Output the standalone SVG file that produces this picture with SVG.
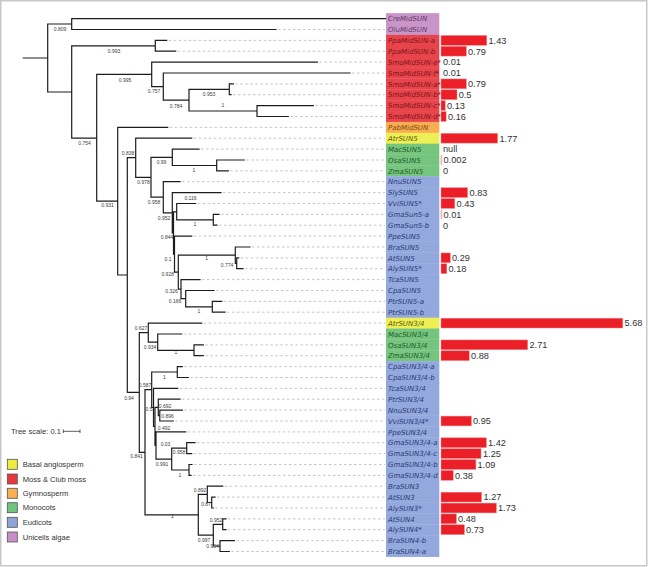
<svg xmlns="http://www.w3.org/2000/svg" width="649" height="567" viewBox="0 0 649 567">
<style>
.ln{fill:none;stroke:#1c1c1c;stroke-width:1.2;stroke-linecap:square}
.dl{fill:none;stroke:#b8b8b8;stroke-width:0.8;stroke-dasharray:2.5 2.5}
.bs{font-family:"Liberation Sans",Arial,sans-serif;font-size:5px;fill:#3a3a3a;text-anchor:middle}
.lb{font-family:"DejaVu Sans",Verdana,sans-serif;font-size:7px;font-style:italic}
.vl{font-family:"Liberation Sans",Arial,sans-serif;font-size:9.2px;fill:#333}
.bar{fill:#ea1f27;stroke:#f3878a;stroke-width:0.5}
.pk{fill:#f3b3b5}
.pu{fill:#c994c8}.pt{fill:#5d3a66}
.rd{fill:#e8444b}.rt{fill:#7d1518}
.or{fill:#f8ad52}.ot{fill:#7a4a10}
.ye{fill:#eeee55}.yt{fill:#5a5a10}
.gr{fill:#76c57f}.gt{fill:#1e5a28}
.bl{fill:#93a8dc}.bt{fill:#2a3a78}
.lg{font-family:"Liberation Sans",Arial,sans-serif;font-size:7.6px;fill:#333}
.sq{stroke:#555;stroke-width:0.8}
</style>
<rect x="0.75" y="0.75" width="646" height="565" fill="#fff" stroke="#c8c8c8" stroke-width="1.5"/>

<g id="connectors">
<path class="dl" d="M278 29.5H385M168.7 40.4H385M177.7 51.2H385M319.3 62.1H385M352 73H385M235.3 83.9H385M233 94.7H385M315.3 105.6H385M290.3 116.5H385M169.7 127.4H385M193.7 138.2H385M201 149.1H385M246.3 160H385M230.3 170.9H385M182 181.7H385M223 192.6H385M197.7 203.5H385M221 214.4H385M219 225.2H385M193.7 236.1H385M252 247H385M240.7 257.9H385M245 268.7H385M202 279.6H385M216 290.5H385M223.7 301.4H385M227 312.2H385M203.7 323.1H385M183.7 334H385M205.3 344.9H385M205.3 355.7H385M184.3 366.6H385M190.3 377.5H385M179.7 388.4H385M182 399.2H385M184.3 410.1H385M175.3 421H385M187.7 431.9H385M197 442.7H385M193.7 453.6H385M194 464.5H385M193 475.4H385M224.7 486.2H385M217 497.1H385M215.3 508H385M228 518.9H385M228 529.7H385M236.3 540.6H385M231.3 551.5H385"/>
<path class="ln" d="M23.3 58H47.7M47.7 24V92M47.7 24H71.7M71.7 18.6V29.5M71.7 18.6H385.5M71.7 29.5H276M47.7 92H71.7M71.7 45.8V138.1M71.7 45.8H155.3M155.3 40.4V51.2M155.3 40.4H166.7M155.3 51.2H175.7M71.7 138.1H96.7M96.7 74.4V201.2M96.7 74.4H151.7M151.7 62.1V86.6M151.7 62.1H317.3M151.7 86.6H163.3M163.3 73V100.2M163.3 73H350M163.3 100.2H189M189 89.3V111M189 89.3H229.3M229.3 83.9V94.7M229.3 83.9H233.3M229.3 94.7H231M189 111H257M257 105.6V116.5M257 105.6H313.3M257 116.5H288.3M96.7 201.2H117.7M117.7 127.4V275M117.7 127.4H167.7M117.7 275H127.3M127.3 157.7V392.4M127.3 157.7H135.7M135.7 138.2V177.3M135.7 138.2H191.7M135.7 177.3H151M151 157.3V197.2M151 157.3H172.3M172.3 149.1V165.5M172.3 149.1H199M172.3 165.5H216.7M216.7 160V170.9M216.7 160H244.3M216.7 170.9H228.3M151 197.2H163.3M163.3 181.7V212.8M163.3 181.7H180M163.3 212.8H172.3M172.3 192.6V232.9M172.3 192.6H221M172.3 232.9H173.5M173.5 211.8V254.1M173.5 211.8H176.7M176.7 203.5V219.8M176.7 203.5H195.7M176.7 219.8H213.3M213.3 214.4V225.2M213.3 214.4H219M213.3 225.2H217M173.5 254.1H174.5M174.5 236.1V272.1M174.5 236.1H191.7M174.5 272.1H178.3M178.3 255.1V289.1M178.3 255.1H235.3M235.3 247V263.3M235.3 247H250M235.3 263.3H236.7M236.7 257.9V268.7M236.7 257.9H238.7M236.7 268.7H243M178.3 289.1H181M181 279.6V298.7M181 279.6H200M181 298.7H185.7M185.7 290.5V306.8M185.7 290.5H214M185.7 306.8H212.3M212.3 301.4V312.2M212.3 301.4H221.7M212.3 312.2H225M127.3 392.4H139.3M139.3 332.6V452.3M139.3 332.6H148.3M148.3 323.1V342.2M148.3 323.1H201.7M148.3 342.2H157.7M157.7 334V350.3M157.7 334H181.7M157.7 350.3H194M194 344.9V355.7M194 344.9H203.3M194 355.7H203.3M139.3 452.3H145M145 389.7V514.8M145 389.7H151.7M151.7 372V407.5M151.7 372H177.3M177.3 366.6V377.5M177.3 366.6H182.3M177.3 377.5H188.3M151.7 407.5H153.5M153.5 388.4V426.5M153.5 388.4H177.7M153.5 426.5H155M155 407.4V445.5M155 407.4H158.3M158.3 399.2V415.6M158.3 399.2H180M158.3 415.6H159.8M159.8 410.1V421M159.8 410.1H182.3M159.8 421H173.3M155 445.5H156M156 431.9V459.1M156 431.9H185.7M156 459.1H171.7M171.7 448.2V470M171.7 448.2H186.7M186.7 442.7V453.6M186.7 442.7H195M186.7 453.6H191.7M171.7 470H189M189 464.5V475.4M189 464.5H192M189 475.4H191M145 514.8H198.3M198.3 494.4V535.2M198.3 494.4H207.3M207.3 486.2V502.5M207.3 486.2H222.7M207.3 502.5H211.7M211.7 497.1V508M211.7 497.1H215M211.7 508H213.3M198.3 535.2H213.3M213.3 524.3V546M213.3 524.3H222.7M222.7 518.9V529.7M222.7 518.9H226M222.7 529.7H226M213.3 546H220M220 540.6V551.5M220 540.6H234.3M220 551.5H229.3"/>
<g id="support-values">
<text class="bs" x="60" y="30.7">0.809</text>
<text class="bs" x="114" y="52.7">0.993</text>
<text class="bs" x="125" y="81.7">0.995</text>
<text class="bs" x="154" y="93.4">0.757</text>
<text class="bs" x="176" y="107.7">0.784</text>
<text class="bs" x="209" y="95.7">0.953</text>
<text class="bs" x="223" y="106.7">1</text>
<text class="bs" x="84.5" y="144.7">0.754</text>
<text class="bs" x="107.5" y="207.2">0.931</text>
<text class="bs" x="128" y="155.2">0.838</text>
<text class="bs" x="143.5" y="184">0.978</text>
<text class="bs" x="161.5" y="164.4">0.99</text>
<text class="bs" x="194" y="171.7">1</text>
<text class="bs" x="154" y="204">0.958</text>
<text class="bs" x="190.5" y="200.2">0.116</text>
<text class="bs" x="164" y="219.7">0.952</text>
<text class="bs" x="195" y="226">1</text>
<text class="bs" x="167" y="239.4">0.844</text>
<text class="bs" x="168" y="260.7">0.1</text>
<text class="bs" x="206.7" y="259.7">1</text>
<text class="bs" x="227" y="266.7">0.774</text>
<text class="bs" x="167.7" y="276">0.928</text>
<text class="bs" x="171.5" y="293">0.326</text>
<text class="bs" x="175" y="302.7">0.166</text>
<text class="bs" x="199" y="313">1</text>
<text class="bs" x="141" y="329.7">0.627</text>
<text class="bs" x="150" y="348.7">0.934</text>
<text class="bs" x="176" y="354.4">1</text>
<text class="bs" x="129" y="399.7">0.94</text>
<text class="bs" x="145" y="387">0.587</text>
<text class="bs" x="164.3" y="379.4">1</text>
<text class="bs" x="149" y="410.7">0.5</text>
<text class="bs" x="165" y="407.7">0.692</text>
<text class="bs" x="167.5" y="418.4">0.896</text>
<text class="bs" x="164" y="430">0.492</text>
<text class="bs" x="165.5" y="445.7">0.03</text>
<text class="bs" x="179" y="454.4">0.958</text>
<text class="bs" x="162" y="465.7">0.991</text>
<text class="bs" x="180" y="476.7">1</text>
<text class="bs" x="136.5" y="458.4">0.841</text>
<text class="bs" x="172.3" y="518.4">1</text>
<text class="bs" x="200" y="491.7">0.892</text>
<text class="bs" x="206" y="506">0.87</text>
<text class="bs" x="204" y="541.7">0.997</text>
<text class="bs" x="216" y="521.7">0.952</text>
<text class="bs" x="212.5" y="548.4">0.904</text>
</g>
</g>

<g id="n01"><rect class="pu" x="386" y="13.16" width="53.3" height="11.2"/><text class="lb pt" x="388" y="21.2">CreMidSUN</text></g>
<g id="n02"><rect class="pu" x="386" y="24.04" width="53.3" height="11.2"/><text class="lb pt" x="388" y="32.1">OluMidSUN</text></g>
<g id="n03"><rect class="rd" x="386" y="34.91" width="53.3" height="11.2"/><text class="lb rt" x="388" y="43">PpaMidSUN-a</text><rect class="bar" x="441" y="35.45" width="45.8" height="9.8"/><text class="vl" x="488.5" y="43.65">1.43</text></g>
<g id="n04"><rect class="rd" x="386" y="45.79" width="53.3" height="11.2"/><text class="lb rt" x="388" y="53.8">PpaMidSUN-b</text><rect class="bar" x="441" y="46.3" width="25.3" height="9.8"/><text class="vl" x="468" y="54.5">0.79</text></g>
<g id="n05"><rect class="rd" x="386" y="56.66" width="53.3" height="11.2"/><text class="lb rt" x="388" y="64.7">SmoMidSUN-e*</text><text class="vl" x="443" y="65.4">0.01</text></g>
<g id="n06"><rect class="rd" x="386" y="67.54" width="53.3" height="11.2"/><text class="lb rt" x="388" y="75.6">SmoMidSUN-f*</text><text class="vl" x="443" y="76.3">0.01</text></g>
<g id="n07"><rect class="rd" x="386" y="78.41" width="53.3" height="11.2"/><text class="lb rt" x="388" y="86.5">SmoMidSUN-a*</text><rect class="bar" x="441" y="78.95" width="25.3" height="9.8"/><text class="vl" x="468" y="87.15">0.79</text></g>
<g id="n08"><rect class="rd" x="386" y="89.29" width="53.3" height="11.2"/><text class="lb rt" x="388" y="97.3">SmoMidSUN-b*</text><rect class="bar" x="441" y="89.8" width="16" height="9.8"/><text class="vl" x="458.7" y="98">0.5</text></g>
<g id="n09"><rect class="rd" x="386" y="100.16" width="53.3" height="11.2"/><text class="lb rt" x="388" y="108.2">SmoMidSUN-c*</text><rect class="bar" x="441" y="100.7" width="4.2" height="9.8"/><text class="vl" x="447" y="108.9">0.13</text></g>
<g id="n10"><rect class="rd" x="386" y="111.04" width="53.3" height="11.2"/><text class="lb rt" x="388" y="119.1">SmoMidSUN-d*</text><rect class="bar" x="441" y="111.6" width="5.1" height="9.8"/><text class="vl" x="448" y="119.8">0.16</text></g>
<g id="n11"><rect class="or" x="386" y="121.91" width="53.3" height="11.2"/><text class="lb ot" x="388" y="130">PabMidSUN</text></g>
<g id="n12"><rect class="ye" x="386" y="132.79" width="53.3" height="11.2"/><text class="lb yt" x="388" y="140.8">AtrSUN5</text><rect class="bar" x="441" y="133.3" width="56.6" height="9.8"/><text class="vl" x="499.5" y="141.5">1.77</text></g>
<g id="n13"><rect class="gr" x="386" y="143.66" width="53.3" height="11.2"/><text class="lb gt" x="388" y="151.7">MacSUN5</text><text class="vl" x="443" y="152.4">null</text></g>
<g id="n14"><rect class="gr" x="386" y="154.54" width="53.3" height="11.2"/><text class="lb gt" x="388" y="162.6">OsaSUN5</text><rect class="pk" x="440.6" y="155.1" width="1.6" height="9.8"/><text class="vl" x="443.5" y="163.3">0.002</text></g>
<g id="n15"><rect class="gr" x="386" y="165.41" width="53.3" height="11.2"/><text class="lb gt" x="388" y="173.5">ZmaSUN5</text><text class="vl" x="443" y="174.2">0</text></g>
<g id="n16"><rect class="bl" x="386" y="176.29" width="53.3" height="11.2"/><text class="lb bt" x="388" y="184.3">NnuSUN5</text></g>
<g id="n17"><rect class="bl" x="386" y="187.16" width="53.3" height="11.2"/><text class="lb bt" x="388" y="195.2">SlySUN5</text><rect class="bar" x="441" y="187.7" width="26.6" height="9.8"/><text class="vl" x="469.5" y="195.9">0.83</text></g>
<g id="n18"><rect class="bl" x="386" y="198.04" width="53.3" height="11.2"/><text class="lb bt" x="388" y="206.1">VviSUN5*</text><rect class="bar" x="441" y="198.6" width="13.8" height="9.8"/><text class="vl" x="456.5" y="206.8">0.43</text></g>
<g id="n19"><rect class="bl" x="386" y="208.91" width="53.3" height="11.2"/><text class="lb bt" x="388" y="217">GmaSun5-a</text><rect class="pk" x="440.6" y="209.45" width="1.6" height="9.8"/><text class="vl" x="443.5" y="217.65">0.01</text></g>
<g id="n20"><rect class="bl" x="386" y="219.79" width="53.3" height="11.2"/><text class="lb bt" x="388" y="227.8">GmaSun5-b</text><text class="vl" x="443" y="228.5">0</text></g>
<g id="n21"><rect class="bl" x="386" y="230.66" width="53.3" height="11.2"/><text class="lb bt" x="388" y="238.7">PpeSUN5</text></g>
<g id="n22"><rect class="bl" x="386" y="241.54" width="53.3" height="11.2"/><text class="lb bt" x="388" y="249.6">BraSUN5</text></g>
<g id="n23"><rect class="bl" x="386" y="252.41" width="53.3" height="11.2"/><text class="lb bt" x="388" y="260.5">AtSUN5</text><rect class="bar" x="441" y="252.95" width="9.3" height="9.8"/><text class="vl" x="452" y="261.15">0.29</text></g>
<g id="n24"><rect class="bl" x="386" y="263.29" width="53.3" height="11.2"/><text class="lb bt" x="388" y="271.3">AlySUN5*</text><rect class="bar" x="441" y="263.8" width="5.8" height="9.8"/><text class="vl" x="448.5" y="272">0.18</text></g>
<g id="n25"><rect class="bl" x="386" y="274.16" width="53.3" height="11.2"/><text class="lb bt" x="388" y="282.2">TcaSUN5</text></g>
<g id="n26"><rect class="bl" x="386" y="285.04" width="53.3" height="11.2"/><text class="lb bt" x="388" y="293.1">CpaSUN5</text></g>
<g id="n27"><rect class="bl" x="386" y="295.91" width="53.3" height="11.2"/><text class="lb bt" x="388" y="304">PtrSUN5-a</text></g>
<g id="n28"><rect class="bl" x="386" y="306.79" width="53.3" height="11.2"/><text class="lb bt" x="388" y="314.8">PtrSUN5-b</text></g>
<g id="n29"><rect class="ye" x="386" y="317.66" width="53.3" height="11.2"/><text class="lb yt" x="388" y="325.7">AtrSUN3/4</text><rect class="bar" x="441" y="318.2" width="181.8" height="9.8"/><text class="vl" x="624.5" y="326.4">5.68</text></g>
<g id="n30"><rect class="gr" x="386" y="328.54" width="53.3" height="11.2"/><text class="lb gt" x="388" y="336.6">MacSUN3/4</text></g>
<g id="n31"><rect class="gr" x="386" y="339.41" width="53.3" height="11.2"/><text class="lb gt" x="388" y="347.5">OsaSUN3/4</text><rect class="bar" x="441" y="339.95" width="86.7" height="9.8"/><text class="vl" x="529.5" y="348.15">2.71</text></g>
<g id="n32"><rect class="gr" x="386" y="350.29" width="53.3" height="11.2"/><text class="lb gt" x="388" y="358.3">ZmaSUN3/4</text><rect class="bar" x="441" y="350.8" width="28.2" height="9.8"/><text class="vl" x="471" y="359">0.88</text></g>
<g id="n33"><rect class="bl" x="386" y="361.16" width="53.3" height="11.2"/><text class="lb bt" x="388" y="369.2">CpaSUN3/4-a</text></g>
<g id="n34"><rect class="bl" x="386" y="372.04" width="53.3" height="11.2"/><text class="lb bt" x="388" y="380.1">CpaSUN3/4-b</text></g>
<g id="n35"><rect class="bl" x="386" y="382.91" width="53.3" height="11.2"/><text class="lb bt" x="388" y="391">TcaSUN3/4</text></g>
<g id="n36"><rect class="bl" x="386" y="393.79" width="53.3" height="11.2"/><text class="lb bt" x="388" y="401.8">PtrSUN3/4</text></g>
<g id="n37"><rect class="bl" x="386" y="404.66" width="53.3" height="11.2"/><text class="lb bt" x="388" y="412.7">NnuSUN3/4</text></g>
<g id="n38"><rect class="bl" x="386" y="415.54" width="53.3" height="11.2"/><text class="lb bt" x="388" y="423.6">VviSUN3/4*</text><rect class="bar" x="441" y="416.1" width="30.4" height="9.8"/><text class="vl" x="473" y="424.3">0.95</text></g>
<g id="n39"><rect class="bl" x="386" y="426.41" width="53.3" height="11.2"/><text class="lb bt" x="388" y="434.5">PpeSUN3/4</text></g>
<g id="n40"><rect class="bl" x="386" y="437.29" width="53.3" height="11.2"/><text class="lb bt" x="388" y="445.3">GmaSUN3/4-a</text><rect class="bar" x="441" y="437.8" width="45.4" height="9.8"/><text class="vl" x="488" y="446">1.42</text></g>
<g id="n41"><rect class="bl" x="386" y="448.16" width="53.3" height="11.2"/><text class="lb bt" x="388" y="456.2">GmaSUN3/4-c</text><rect class="bar" x="441" y="448.7" width="40" height="9.8"/><text class="vl" x="483" y="456.9">1.25</text></g>
<g id="n42"><rect class="bl" x="386" y="459.04" width="53.3" height="11.2"/><text class="lb bt" x="388" y="467.1">GmaSUN3/4-b</text><rect class="bar" x="441" y="459.6" width="34.9" height="9.8"/><text class="vl" x="477.5" y="467.8">1.09</text></g>
<g id="n43"><rect class="bl" x="386" y="469.91" width="53.3" height="11.2"/><text class="lb bt" x="388" y="478">GmaSUN3/4-d</text><rect class="bar" x="441" y="470.45" width="12.2" height="9.8"/><text class="vl" x="455" y="478.65">0.38</text></g>
<g id="n44"><rect class="bl" x="386" y="480.79" width="53.3" height="11.2"/><text class="lb bt" x="388" y="488.8">BraSUN3</text></g>
<g id="n45"><rect class="bl" x="386" y="491.66" width="53.3" height="11.2"/><text class="lb bt" x="388" y="499.7">AtSUN3</text><rect class="bar" x="441" y="492.2" width="40.6" height="9.8"/><text class="vl" x="483.5" y="500.4">1.27</text></g>
<g id="n46"><rect class="bl" x="386" y="502.54" width="53.3" height="11.2"/><text class="lb bt" x="388" y="510.6">AlySUN3*</text><rect class="bar" x="441" y="503.1" width="55.4" height="9.8"/><text class="vl" x="498" y="511.3">1.73</text></g>
<g id="n47"><rect class="bl" x="386" y="513.41" width="53.3" height="11.2"/><text class="lb bt" x="388" y="521.5">AtSUN4</text><rect class="bar" x="441" y="513.95" width="15.4" height="9.8"/><text class="vl" x="458" y="522.15">0.48</text></g>
<g id="n48"><rect class="bl" x="386" y="524.29" width="53.3" height="11.2"/><text class="lb bt" x="388" y="532.3">AlySUN4*</text><rect class="bar" x="441" y="524.8" width="23.4" height="9.8"/><text class="vl" x="466" y="533">0.73</text></g>
<g id="n49"><rect class="bl" x="386" y="535.16" width="53.3" height="11.2"/><text class="lb bt" x="388" y="543.2">BraSUN4-b</text></g>
<g id="n50"><rect class="bl" x="386" y="546.04" width="53.3" height="10.9"/><text class="lb bt" x="388" y="554.1">BraSUN4-a</text></g>

<g id="scale">
<text class="lg" x="11" y="433.8" font-size="7.2">Tree scale: 0.1</text>
<path d="M63.3 431.3H80M63.3 429.5V433M80 429.5V433" fill="none" stroke="#333" stroke-width="0.8"/>
</g>
<g id="legend">
<rect class="sq" x="7.3" y="459.3" width="10" height="10" fill="#eded3f"/><text class="lg" x="22.7" y="467">Basal angiosperm</text>
<rect class="sq" x="7.3" y="474" width="10" height="10" fill="#e8383d"/><text class="lg" x="22.7" y="481.7">Moss &amp; Club moss</text>
<rect class="sq" x="7.3" y="488.3" width="10" height="10" fill="#f9b04f"/><text class="lg" x="22.7" y="496">Gymnosperm</text>
<rect class="sq" x="7.3" y="502.7" width="10" height="10" fill="#6ec47a"/><text class="lg" x="22.7" y="510.4">Monocots</text>
<rect class="sq" x="7.3" y="517.3" width="10" height="10" fill="#8fa5da"/><text class="lg" x="22.7" y="525">Eudicots</text>
<rect class="sq" x="7.3" y="532" width="10" height="10" fill="#c88ec8"/><text class="lg" x="22.7" y="539.7">Unicells algae</text>
</g>
</svg>
